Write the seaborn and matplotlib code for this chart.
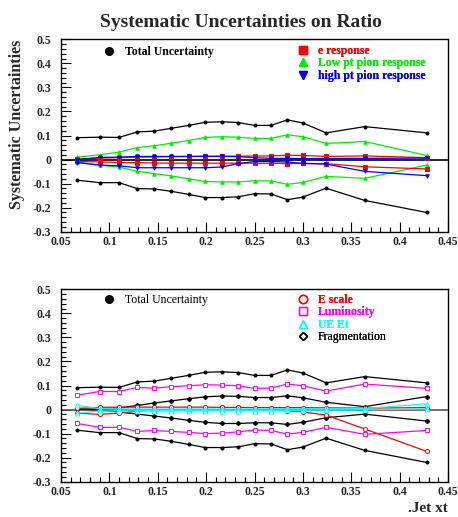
import numpy as np
import pandas as pd
import matplotlib
matplotlib.use('Agg')
import matplotlib.pyplot as plt
from matplotlib.lines import Line2D
from matplotlib.ticker import MultipleLocator, FixedLocator
import seaborn as sns

sns.set_theme(style='ticks')
plt.rcParams['font.family'] = ['Liberation Serif', 'DejaVu Serif']
plt.rcParams['font.weight'] = 'bold'

# jet xt bins
xt = [0.067, 0.090, 0.110, 0.129, 0.146, 0.164, 0.182, 0.199, 0.216,
      0.233, 0.250, 0.267, 0.284, 0.300, 0.324, 0.364, 0.428]

# total uncertainty (same in both panels)
total_up = [0.091, 0.093, 0.092, 0.115, 0.118, 0.130, 0.142, 0.155, 0.157,
            0.154, 0.142, 0.142, 0.165, 0.152, 0.111, 0.137, 0.111]
total_dn = [-0.086, -0.096, -0.096, -0.121, -0.122, -0.132, -0.145, -0.158, -0.158,
            -0.155, -0.142, -0.143, -0.167, -0.156, -0.119, -0.170, -0.220]

# top panel sources
eresp_up = [0.002, 0.006, 0.008, 0.010, 0.011, 0.012, 0.013, 0.014, 0.014,
            0.014, 0.015, 0.015, 0.018, 0.017, 0.013, 0.015, 0.008]
eresp_dn = [-0.008, -0.010, -0.012, -0.013, -0.014, -0.015, -0.015, -0.015, -0.015,
            -0.015, -0.015, -0.015, -0.017, -0.016, -0.017, -0.030, -0.039]
lowpt_up = [0.010, 0.020, 0.031, 0.050, 0.057, 0.068, 0.079, 0.092, 0.095,
            0.093, 0.088, 0.088, 0.103, 0.095, 0.067, 0.075, 0.017]
lowpt_dn = [-0.010, -0.024, -0.031, -0.049, -0.058, -0.068, -0.080, -0.091, -0.093,
            -0.093, -0.088, -0.089, -0.103, -0.095, -0.070, -0.078, -0.023]
highpt_up = [0.000, 0.009, 0.010, 0.013, 0.013, 0.013, 0.013, 0.013, 0.013,
             0.012, 0.008, 0.005, 0.005, 0.004, 0.004, 0.005, 0.006]
highpt_dn = [-0.013, -0.023, -0.026, -0.034, -0.034, -0.034, -0.034, -0.034, -0.031,
             -0.017, -0.008, -0.008, -0.010, -0.016, -0.019, -0.049, -0.067]

# bottom panel sources
escale_up = [0.005, 0.009, 0.010, 0.010, 0.010, 0.010, 0.010, 0.010, 0.009,
             0.009, 0.008, 0.008, 0.008, 0.008, 0.007, 0.006, 0.008]
escale_dn = [-0.015, -0.020, -0.015, -0.006, -0.004, -0.003, -0.003, -0.003, -0.003,
             -0.003, -0.002, -0.003, -0.005, -0.010, -0.023, -0.081, -0.174]
lumi_up = [0.060, 0.075, 0.075, 0.092, 0.089, 0.095, 0.099, 0.103, 0.102,
           0.099, 0.088, 0.089, 0.106, 0.099, 0.077, 0.106, 0.088]
lumi_dn = [-0.058, -0.074, -0.074, -0.091, -0.087, -0.091, -0.095, -0.100, -0.098,
           -0.093, -0.085, -0.087, -0.102, -0.095, -0.074, -0.103, -0.087]
ueet_up = [0.017, 0.004, 0.003, 0.002, 0.002, 0.002, 0.002, 0.002, 0.002,
           0.002, 0.002, 0.002, 0.003, 0.003, 0.003, 0.004, 0.024]
ueet_dn = [-0.015, -0.006, -0.006, -0.005, -0.004, -0.004, -0.004, -0.004, -0.004,
           -0.004, -0.004, -0.004, -0.003, -0.003, -0.002, -0.001, 0.002]
frag_up = [0.002, 0.002, 0.007, 0.017, 0.027, 0.036, 0.045, 0.053, 0.056,
           0.055, 0.050, 0.050, 0.057, 0.049, 0.030, 0.012, 0.054]
frag_dn = [0.002, -0.002, -0.010, -0.019, -0.027, -0.035, -0.045, -0.053, -0.058,
           -0.058, -0.055, -0.055, -0.062, -0.053, -0.034, -0.019, -0.048]

xtick_vals = [0.05, 0.1, 0.15, 0.2, 0.25, 0.3, 0.35, 0.4, 0.45]
xtick_labels = ['0.05', '0.1', '0.15', '0.2', '0.25', '0.3', '0.35', '0.4', '0.45']
ytick_vals = [-0.3, -0.2, -0.1, 0, 0.1, 0.2, 0.3, 0.4, 0.5]
ytick_labels = ['-0.3', '-0.2', '-0.1', '0', '0.1', '0.2', '0.3', '0.4', '0.5']

RED, GREEN, BLUE = '#ff0000', '#00ee00', '#0000ff'
MAGENTA, CYAN = '#ff00ff', '#00ffff'

fig = plt.figure(figsize=(4.58, 5.17), dpi=100)
ax_top = fig.add_axes([0.1332, 0.5518, 0.8450, 0.3722])
ax_bot = fig.add_axes([0.1332, 0.0683, 0.8450, 0.3721])


def draw_pair(ax, up, dn, color, marker, ms=2.5, mfc=None):
    for vals in (up, dn):
        sns.lineplot(x=xt, y=vals, ax=ax, color=color, linewidth=0.9,
                     marker=marker, markersize=ms,
                     markerfacecolor=mfc if mfc else color,
                     markeredgecolor=color, markeredgewidth=0.7,
                     legend=False, estimator=None, sort=False)


def style_axis(ax, zero_color):
    ax.axhline(0, color=zero_color, linewidth=1.2, zorder=1)
    ax.set_xlim(0.05, 0.45)
    ax.set_ylim(-0.3, 0.5)
    ax.xaxis.set_major_locator(FixedLocator(xtick_vals))
    ax.set_xticklabels(xtick_labels)
    ax.yaxis.set_major_locator(FixedLocator(ytick_vals))
    ax.set_yticklabels(ytick_labels)
    ax.xaxis.set_minor_locator(MultipleLocator(0.01))
    ax.yaxis.set_minor_locator(MultipleLocator(0.02))
    ax.tick_params(which='both', direction='in', top=False, right=False,
                   color='black', width=0.8)
    ax.tick_params(which='major', length=7, labelsize=8.5)
    ax.tick_params(which='minor', length=3.5)
    ax.tick_params(axis='y', which='major', pad=7)
    ax.tick_params(axis='x', which='major', pad=3)
    for lab in ax.get_xticklabels() + ax.get_yticklabels():
        lab.set_fontweight('bold')
    for sp in ax.spines.values():
        sp.set_visible(True)
        sp.set_color('black')
        sp.set_linewidth(1.0)
    ax.set_xlabel('')
    ax.set_ylabel('')


def make_legend(ax, handles, labels, colors, anchor, weights):
    leg = ax.legend(handles, labels, loc='center left', bbox_to_anchor=anchor,
                    frameon=False, borderpad=0, borderaxespad=0,
                    handlelength=1.0, handletextpad=0.8, labelspacing=0.05,
                    prop={'size': 8.5, 'weight': 'bold'})
    for txt, c, w in zip(leg.get_texts(), colors, weights):
        txt.set_color(c)
        txt.set_fontweight(w)
    ax.add_artist(leg)
    return leg


# ---- top panel
draw_pair(ax_top, total_up, total_dn, 'black', 'o', ms=2.2)
draw_pair(ax_top, lowpt_up, lowpt_dn, GREEN, '^', ms=2.5)
draw_pair(ax_top, eresp_up, eresp_dn, RED, 's', ms=2.5)
draw_pair(ax_top, highpt_up, highpt_dn, BLUE, 'v', ms=2.5)
style_axis(ax_top, 'black')

make_legend(ax_top,
            [Line2D([], [], ls='none', marker='o', color='black', markersize=5.5)],
            ['Total Uncertainty'], ['black'], (0.1096, 0.9355), ['bold'])
make_legend(ax_top,
            [Line2D([], [], ls='none', marker='s', color=RED, markersize=5.5),
             Line2D([], [], ls='none', marker='^', color=GREEN, markersize=5.5),
             Line2D([], [], ls='none', marker='v', color=BLUE, markersize=5.5)],
            ['e response', 'Low pt pion response', 'high pt pion response'],
            [RED, GREEN, BLUE], (0.609, 0.875), ['bold'] * 3)

# ---- bottom panel
draw_pair(ax_bot, total_up, total_dn, 'black', 'o', ms=2.2)
draw_pair(ax_bot, lumi_up, lumi_dn, MAGENTA, 's', ms=3.5, mfc='white')
draw_pair(ax_bot, frag_up, frag_dn, 'black', 'P', ms=2.8)
draw_pair(ax_bot, escale_up, escale_dn, RED, 'o', ms=3.0, mfc='white')
draw_pair(ax_bot, ueet_up, ueet_dn, CYAN, '^', ms=3.5, mfc='white')
style_axis(ax_bot, '#555555')

make_legend(ax_bot,
            [Line2D([], [], ls='none', marker='o', color='black', markersize=5.5)],
            ['Total Uncertainty'], ['black'], (0.1096, 0.944), ['normal'])
make_legend(ax_bot,
            [Line2D([], [], ls='none', marker='o', color=RED, mfc='none', markersize=6),
             Line2D([], [], ls='none', marker='s', color=MAGENTA, mfc='none', markersize=6),
             Line2D([], [], ls='none', marker='^', color=CYAN, mfc='none', markersize=6),
             Line2D([], [], ls='none', marker='D', color='black', mfc='none', markersize=4)],
            ['E scale', 'Luminosity', 'UE Et', 'Fragmentation'],
            [RED, MAGENTA, CYAN, 'black'], (0.609, 0.848),
            ['bold', 'bold', 'bold', 'normal'])

fig.text(0.527, 0.948, 'Systematic Uncertainties on Ratio', ha='center',
         va='baseline', fontsize=14, fontweight='bold')
fig.text(0.037, 1 - 40 / 517, 'Systematic Uncertainties', rotation=90,
         ha='center', va='top', fontsize=11.5, fontweight='bold')
fig.text(0.978, 0.009, '.Jet xt', ha='right', va='baseline',
         fontsize=11, fontweight='bold')

fig.savefig('out.png', dpi=100)
